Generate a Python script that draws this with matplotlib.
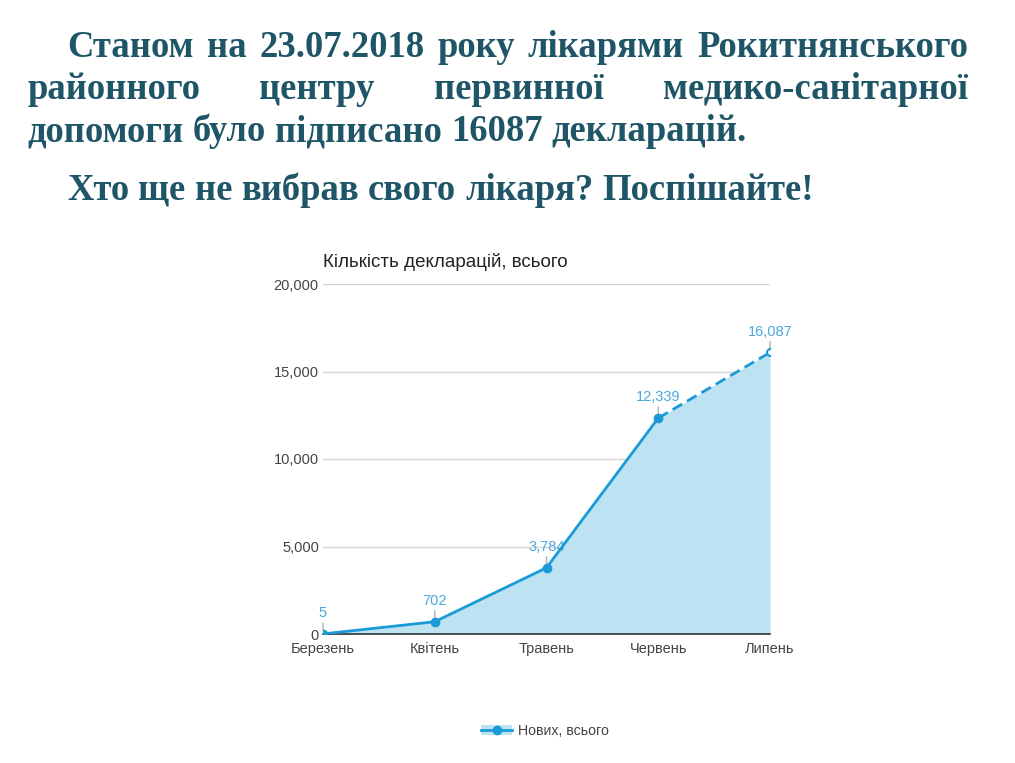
import matplotlib
matplotlib.use("Agg")
import matplotlib.pyplot as plt
from matplotlib.lines import Line2D
from matplotlib.patches import Patch

months = ["Березень", "Квітень", "Травень", "Червень", "Липень"]
values = [5, 702, 3784, 12339, 16087]
yticks = [0, 5000, 10000, 15000, 20000]
chart_title = "Кількість декларацій, всього"
legend_label = "Нових, всього"
heading_lines = [
    "Станом на 23.07.2018 року лікарями Рокитнянського",
    "районного центру первинної медико-санітарної",
    "допомоги було підписано 16087 декларацій.",
]
heading2 = "Хто ще не вибрав свого лікаря? Поспішайте!"

W, H = 1015, 763
fig = plt.figure(figsize=(W / 100, H / 100), dpi=100)
fig.patch.set_facecolor("white")

head_color = "#1f5667"
hfont = dict(family="Liberation Serif", weight="bold", size=26.4, color=head_color)

renderer = fig.canvas.get_renderer()

def px(x, y):
    return x / W, 1 - y / H

def justify(text, x0, x1, ybase, justify_line=True):
    words = text.split(" ")
    arts = [fig.text(0, 0, w, va="baseline", ha="left", **hfont) for w in words]
    widths = [a.get_window_extent(renderer).width for a in arts]
    if justify_line and len(words) > 1:
        gap = (x1 - x0 - sum(widths)) / (len(words) - 1)
    else:
        sp = fig.text(0, 0, "a a", **hfont)
        sp2 = fig.text(0, 0, "aa", **hfont)
        gap = sp.get_window_extent(renderer).width - sp2.get_window_extent(renderer).width
        sp.remove(); sp2.remove()
    x = x0
    for a, w in zip(arts, widths):
        a.set_position(px(x, ybase))
        x += w + gap

justify(heading_lines[0], 67, 968, 57)
justify(heading_lines[1], 27, 968, 99)
justify(heading_lines[2], 27, 968, 141, justify_line=False)
justify(heading2, 67, 968, 200, justify_line=False)

# chart
ax = fig.add_axes([323 / W, 1 - 634 / H, (770 - 323) / W, (634 - 284) / H])
x = list(range(len(months)))
line_c = "#1a9bd7"
fill_c = "#bde3f3"
ax.fill_between(x, values, 0, color=fill_c, lw=0, zorder=1)
ax.plot(x[:4], values[:4], color=line_c, lw=2, marker="o", ms=6, zorder=3)
ax.plot(x[3:], values[3:], color=line_c, lw=2, ls=(0, (4, 2)), zorder=3)
ax.plot(x[4], values[4], marker="o", ms=5, mfc="white", mec=line_c, mew=1.5, zorder=4)

for xi, v in zip(x, values):
    ax.annotate(f"{v:,}", (xi, v), xytext=(0, 10), textcoords="offset points",
                ha="center", va="bottom", fontsize=10.5, color="#4ba7dd",
                family="Liberation Sans",
                arrowprops=dict(arrowstyle="-", color="#b0b0b0", lw=1,
                                shrinkA=0, shrinkB=2.5), zorder=2, annotation_clip=False)

ax.set_xlim(0, 4)
ax.set_ylim(0, 20000)
ax.set_yticks(yticks)
ax.set_yticklabels([f"{t:,}" for t in yticks])
ax.set_xticks(x)
ax.set_xticklabels(months)
ax.grid(axis="y", color="#d4d4d4", lw=1, zorder=0)
ax.set_axisbelow(True)
for s in ["top", "right", "left"]:
    ax.spines[s].set_visible(False)
ax.spines["bottom"].set_color("#333333")
ax.spines["bottom"].set_linewidth(1.2)
ax.spines["bottom"].set_zorder(2)
ax.tick_params(axis="both", length=0, labelsize=10.5, labelcolor="#444444")
for lab in ax.get_xticklabels() + ax.get_yticklabels():
    lab.set_family("Liberation Sans")
ax.tick_params(axis="x", pad=6)
ax.tick_params(axis="y", pad=3)
ax.set_facecolor("none")

fig.text(323 / W, 1 - 262 / H, chart_title, ha="left", va="center",
         fontsize=13.5, color="#222222", family="Liberation Sans")

handle = (Patch(facecolor=fill_c, edgecolor="none"),
          Line2D([], [], color=line_c, lw=2, marker="o", ms=6))
fig.legend([handle], [legend_label], loc="center", bbox_to_anchor=(545 / W, 1 - 731 / H),
           frameon=False, prop=dict(family="Liberation Sans", size=10.2),
           labelcolor="#444444", handlelength=2.2, handletextpad=0.4)

fig.savefig("out.png", dpi=100, facecolor="white")
